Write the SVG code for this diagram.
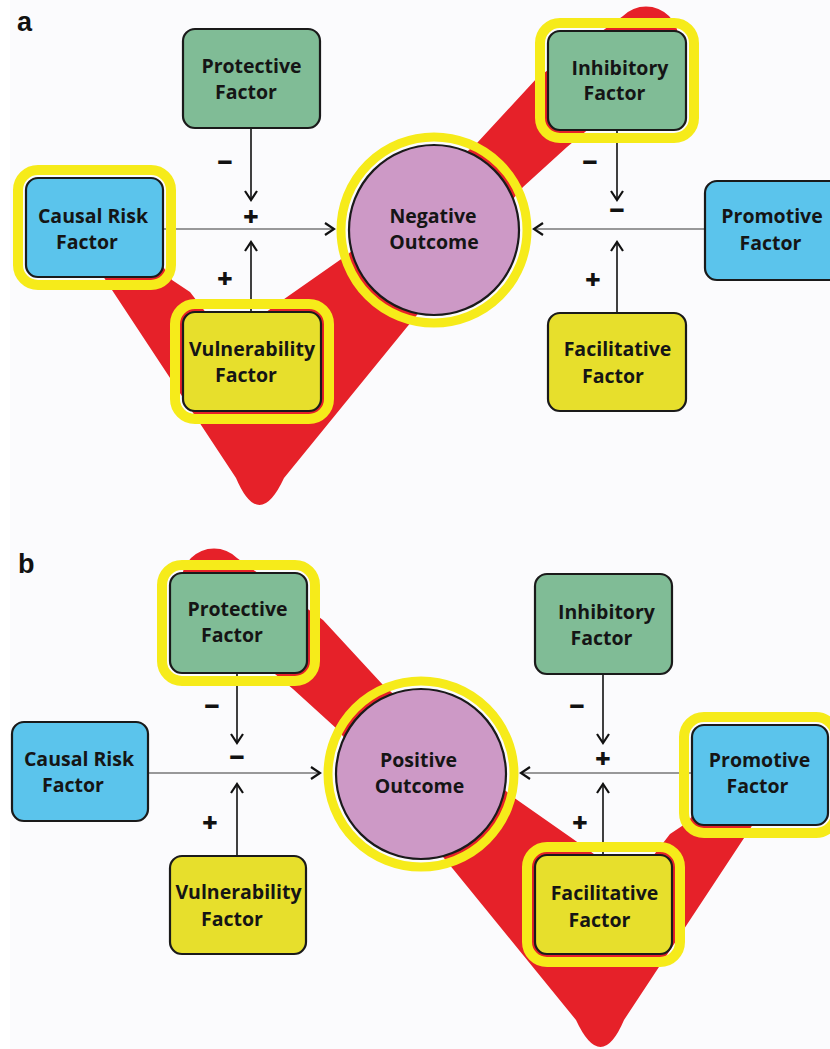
<svg xmlns="http://www.w3.org/2000/svg" xmlns:xlink="http://www.w3.org/1999/xlink" width="830" height="1049" viewBox="0 0 830 1049">
<style>
.bx{stroke:#1a1a1a;stroke-width:2.2}
.g{fill:#80bc96}.b{fill:#5bc4ec}.y{fill:#e7df2c}.p{fill:#cd99c6}
.ring{fill:none;stroke:#f6eb1a;stroke-width:10}
.cring{fill:none;stroke:#f6eb1a;stroke-width:9}
.t{font-family:"Open Sans","Liberation Sans",sans-serif;font-weight:700;font-size:19.5px;fill:#151515;text-anchor:middle}
.sg{font-family:"Open Sans","Liberation Sans",sans-serif;font-weight:800;font-size:27px;fill:#111;text-anchor:middle}
.lbl{font-family:"Liberation Sans",Arial,sans-serif;font-weight:700;font-size:27px;fill:#111}
.vl{stroke:#111;stroke-width:1.6;fill:none}
.hl{stroke:#777;stroke-width:1.6;fill:none}
.vee{fill:#e62129}
</style>
<defs>
<marker id="ah" viewBox="-12 -8 14 16" refX="0" refY="0" markerWidth="14" markerHeight="16" markerUnits="userSpaceOnUse" orient="auto">
<path d="M-9,-6 L0,0 L-9,6" fill="none" stroke="#111" stroke-width="2.2"/>
</marker>
<path id="V" d="M94,262 L112,290 L236,478 Q259,532 284,478 L407,327 L523,187 L567,147 L669,62 A32,32 0 0 0 623,16 L537,78 L477,143 L347,255 L287,297 L227,340 L190,292 L172,280 L160,262 Z"/>
</defs>
<rect x="0" y="0" width="830" height="1049" fill="#fbfbfd"/>
<rect x="0" y="0" width="10" height="1049" fill="#ffffff"/>

<g id="highlight-paths">
<use xlink:href="#V" class="vee"/>
<use xlink:href="#V" class="vee" transform="translate(860,542) scale(-1,1)"/>
</g>

<text class="lbl" x="17" y="31">a</text>
<text class="lbl" x="18" y="573">b</text>

<g id="connectors">
<line class="hl" x1="163" y1="229" x2="334" y2="229" marker-end="url(#ah)"/>
<line class="hl" x1="705" y1="229" x2="534" y2="229" marker-end="url(#ah)"/>
<line class="vl" x1="251" y1="128" x2="251" y2="200" marker-end="url(#ah)"/>
<line class="vl" x1="251" y1="311" x2="251" y2="242" marker-end="url(#ah)"/>
<line class="vl" x1="617" y1="130" x2="617" y2="200" marker-end="url(#ah)"/>
<line class="vl" x1="617" y1="312" x2="617" y2="242" marker-end="url(#ah)"/>

<line class="hl" x1="148" y1="773" x2="320" y2="773" marker-end="url(#ah)"/>
<line class="hl" x1="692" y1="773" x2="521" y2="773" marker-end="url(#ah)"/>
<line class="vl" x1="237" y1="673" x2="237" y2="743" marker-end="url(#ah)"/>
<line class="vl" x1="237" y1="856" x2="237" y2="784" marker-end="url(#ah)"/>
<line class="vl" x1="603" y1="674" x2="603" y2="743" marker-end="url(#ah)"/>
<line class="vl" x1="603" y1="855" x2="603" y2="784" marker-end="url(#ah)"/>

<text class="sg" x="225" y="172">−</text>
<text class="sg" x="251" y="226">+</text>
<text class="sg" x="225" y="288">+</text>
<text class="sg" x="590" y="172">−</text>
<text class="sg" x="617" y="220">−</text>
<text class="sg" x="593" y="289">+</text>

<text class="sg" x="212" y="716">−</text>
<text class="sg" x="237" y="767">−</text>
<text class="sg" x="210" y="832">+</text>
<text class="sg" x="577" y="716">−</text>
<text class="sg" x="603" y="768">+</text>
<text class="sg" x="580" y="832">+</text>
</g>

<g id="a-protective">
<rect class="bx g" x="183" y="29" width="137" height="99" rx="12"/>
<text class="t" x="251.5" y="73">Protective</text>
<text class="t" x="246" y="99">Factor</text>
</g>
<g id="a-causal">
<rect class="ring" x="18" y="170" width="153" height="115" rx="20"/>
<rect class="bx b" x="26" y="178" width="137" height="99" rx="12"/>
<text class="t" x="93" y="223">Causal Risk</text>
<text class="t" x="87" y="249">Factor</text>
</g>
<g id="a-vulnerability">
<rect class="ring" x="175" y="304" width="154" height="115" rx="20"/>
<rect class="bx y" x="183" y="312" width="138" height="99" rx="12"/>
<text class="t" x="252" y="356">Vulnerability</text>
<text class="t" x="246" y="382">Factor</text>
</g>
<g id="a-outcome">
<circle class="cring" cx="434" cy="230" r="93"/>
<circle class="bx p" cx="434" cy="230" r="85"/>
<text class="t" x="433" y="223">Negative</text>
<text class="t" x="434" y="249">Outcome</text>
</g>
<g id="a-inhibitory">
<rect class="ring" x="540" y="23" width="154" height="115" rx="20"/>
<rect class="bx g" x="548" y="31" width="138" height="99" rx="12"/>
<text class="t" x="620" y="75">Inhibitory</text>
<text class="t" x="614.5" y="100">Factor</text>
</g>
<g id="a-promotive">
<rect class="bx b" x="705" y="181" width="140" height="99" rx="12"/>
<text class="t" x="772" y="223">Promotive</text>
<text class="t" x="770.5" y="250">Factor</text>
</g>
<g id="a-facilitative">
<rect class="bx y" x="548" y="313" width="138" height="98" rx="12"/>
<text class="t" x="617.5" y="356">Facilitative</text>
<text class="t" x="613" y="383">Factor</text>
</g>

<g id="b-protective">
<rect class="ring" x="162" y="565" width="153" height="116" rx="20"/>
<rect class="bx g" x="170" y="573" width="137" height="100" rx="12"/>
<text class="t" x="237.5" y="616">Protective</text>
<text class="t" x="232" y="642">Factor</text>
</g>
<g id="b-causal">
<rect class="bx b" x="12" y="722" width="136" height="99" rx="12"/>
<text class="t" x="79" y="766">Causal Risk</text>
<text class="t" x="73" y="792">Factor</text>
</g>
<g id="b-vulnerability">
<rect class="bx y" x="170" y="856" width="136" height="98" rx="12"/>
<text class="t" x="238.5" y="899">Vulnerability</text>
<text class="t" x="232" y="926">Factor</text>
</g>
<g id="b-outcome">
<circle class="cring" cx="421" cy="774" r="93"/>
<circle class="bx p" cx="421" cy="774" r="85"/>
<text class="t" x="418.5" y="767">Positive</text>
<text class="t" x="419.5" y="793">Outcome</text>
</g>
<g id="b-inhibitory">
<rect class="bx g" x="535" y="574" width="137" height="100" rx="12"/>
<text class="t" x="606.5" y="619">Inhibitory</text>
<text class="t" x="601.5" y="645">Factor</text>
</g>
<g id="b-promotive">
<rect class="ring" x="684" y="717" width="152" height="116" rx="20"/>
<rect class="bx b" x="692" y="725" width="136" height="100" rx="12"/>
<text class="t" x="759.5" y="767">Promotive</text>
<text class="t" x="757.5" y="793">Factor</text>
</g>
<g id="b-facilitative">
<rect class="ring" x="527" y="847" width="153" height="115" rx="20"/>
<rect class="bx y" x="535" y="855" width="137" height="99" rx="12"/>
<text class="t" x="604.5" y="900">Facilitative</text>
<text class="t" x="599.5" y="927">Factor</text>
</g>
</svg>
